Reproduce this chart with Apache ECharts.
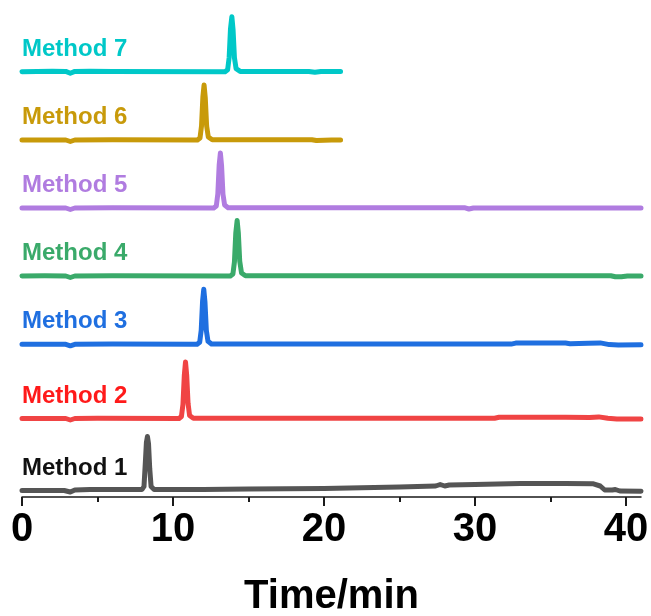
<!DOCTYPE html>
<html><head><meta charset="utf-8">
<script src="https://cdn.jsdelivr.net/npm/echarts@6/dist/echarts.min.js"></script>
<style>html,body{margin:0;padding:0;background:#fff}#c{width:651px;height:616px}</style>
</head><body><div id="c"></div>
<script>
// Tick values of the time axis (min)
const xMajorTicks = [0, 10, 20, 30, 40];
const xMinorTicks = [5, 15, 25, 35];
const xAxisName = 'Time/min';

// Trace names and colours
const methodNames = ['Method 1', 'Method 2', 'Method 3', 'Method 4', 'Method 5', 'Method 6', 'Method 7'];
const lineColors = ['#555555', '#f04444', '#1f6fe0', '#3aaa6a', '#b07ce0', '#c89a0a', '#00c8c8'];
const labelColors = ['#111111', '#ff1a1a', '#1f6fe0', '#3aaa6a', '#b07ce0', '#c89a0a', '#00c8c8'];

// Vertical stacking offset of each trace (signal units)
const baselineOffsets = [6.5, 78.5, 152.7, 221, 289, 357, 425.3];

// Chromatogram signals: [time (min), signal]
const method1 = [[0,0],[2.8,0],[3.2,-1.5],[3.5,0.5],[4.5,1],[7.95,1],[8.08,4],[8.17,28],[8.24,48],[8.31,54],[8.38,47],[8.46,22],[8.55,4],[8.75,1],[12,1],[15,1.5],[20,2],[25,3.5],[27.4,4.5],[27.7,6],[28.0,4.5],[28.3,5.5],[30,6],[33,7],[36,7],[37.8,6.8],[38.3,4.5],[38.6,0.5],[39.1,0.5],[39.3,1],[39.6,-0.5],[41,-0.8]];
const method2 = [[0,0],[2.9,0],[3.2,-1.5],[3.5,0],[5,0.3],[10.4,0],[10.56,2],[10.66,14],[10.75,43],[10.83,56.5],[10.91,43],[11.0,15],[11.1,3],[11.35,0.3],[20,0.2],[31.3,0.2],[31.6,1.2],[36,1.3],[37.6,1],[38.2,1.6],[38.8,0.2],[39.4,-0.6],[41,-0.5]];
const method3 = [[0,0],[2.9,0],[3.2,-1.5],[3.5,0],[6,0.2],[11.6,0],[11.77,2],[11.87,14],[11.96,43],[12.04,55],[12.12,42],[12.21,14],[12.32,3],[12.55,0.3],[20,0.2],[32.4,0.2],[32.7,1.2],[36,1.2],[36.3,0.6],[37.5,1],[38.3,1.4],[38.9,-0.3],[39.5,-0.8],[41,-0.5]];
const method4 = [[0,0],[1.5,0.2],[2.9,0],[3.2,-1.5],[3.5,0],[6,0.2],[13.8,0],[13.97,2],[14.07,14],[14.16,43],[14.25,55.5],[14.33,43],[14.42,15],[14.54,3],[14.8,0.3],[25,0.2],[39.0,0.3],[39.3,-0.8],[39.7,-0.8],[40.1,0],[41,0]];
const method5 = [[0,0],[2.9,0],[3.2,-1.5],[3.5,0],[6,0.3],[12.7,0],[12.87,2],[12.97,14],[13.06,43],[13.14,55],[13.22,42],[13.31,14],[13.42,3],[13.65,0.3],[20,0.3],[29.3,0.3],[29.6,-1],[29.9,0],[35,0],[41,0]];
const method6 = [[0,0],[2.9,0],[3.2,-1.5],[3.5,0],[6,0.2],[11.62,0],[11.79,2],[11.89,14],[11.98,43],[12.06,55],[12.14,42],[12.23,14],[12.34,3],[12.6,0.3],[19.2,0.3],[19.5,-0.5],[20.5,0],[21.1,0]];
const method7 = [[0,0],[1,0.3],[2,0.5],[2.9,0.3],[3.2,-1.5],[3.5,0.3],[4.5,0.5],[6,0.2],[13.45,0],[13.62,2],[13.72,14],[13.81,43],[13.9,55],[13.98,42],[14.07,14],[14.18,3],[14.45,0.3],[19.0,0.3],[19.4,-0.5],[19.8,0.3],[21.1,0.3]];
const methodSignals = [method1, method2, method3, method4, method5, method6, method7];

// Label sits this far above its trace baseline (signal units)
const labelRise = 22.5;

const series = methodSignals.map((sig, i) => ({
  type: 'line',
  name: methodNames[i],
  data: sig.map(p => [p[0], p[1] + baselineOffsets[i]]),
  showSymbol: false,
  smooth: false,
  animation: false,
  silent: true,
  lineStyle: { color: lineColors[i], width: 5, cap: 'round', join: 'round' },
  z: 3,
  markPoint: {
    silent: true,
    animation: false,
    symbol: 'circle',
    symbolSize: 0,
    data: [{ coord: [0, baselineOffsets[i] + labelRise] }],
    label: {
      show: true,
      position: 'right',
      distance: 0,
      formatter: methodNames[i],
      color: labelColors[i],
      fontSize: 24,
      fontWeight: 'bold',
      fontFamily: 'Liberation Sans, Arial, sans-serif'
    }
  }
}));

const chart = echarts.init(document.getElementById('c'), null, { renderer: 'canvas' });
chart.setOption({
  backgroundColor: '#ffffff',
  animation: false,
  grid: { left: 22, right: 10, top: 0, bottom: 119, containLabel: false, outerBoundsMode: 'none' },
  xAxis: [{
    type: 'value', min: 0, max: 41, interval: 10,
    name: xAxisName, nameLocation: 'middle', nameGap: 80,
    nameTextStyle: { fontSize: 40, fontWeight: 'bold', color: '#000', fontFamily: 'Liberation Sans, Arial, sans-serif' },
    axisLine: { show: true, lineStyle: { color: '#1a1a1a', width: 1.5 } },
    axisTick: { show: true, length: 9, customValues: xMajorTicks, lineStyle: { color: '#1a1a1a', width: 2 } },
    axisLabel: { customValues: xMajorTicks, margin: 13, fontSize: 40, fontWeight: 'bold', color: '#000', fontFamily: 'Liberation Sans, Arial, sans-serif' },
    splitLine: { show: false }
  }, {
    type: 'value', min: 0, max: 41, position: 'bottom', gridIndex: 0,
    axisLine: { show: false },
    axisTick: { show: true, length: 5, customValues: xMinorTicks, lineStyle: { color: '#1a1a1a', width: 2 } },
    axisLabel: { show: false },
    splitLine: { show: false }
  }],
  yAxis: { type: 'value', min: 0, max: 497, show: false, splitLine: { show: false } },
  series: series
});
</script>
</body></html>
